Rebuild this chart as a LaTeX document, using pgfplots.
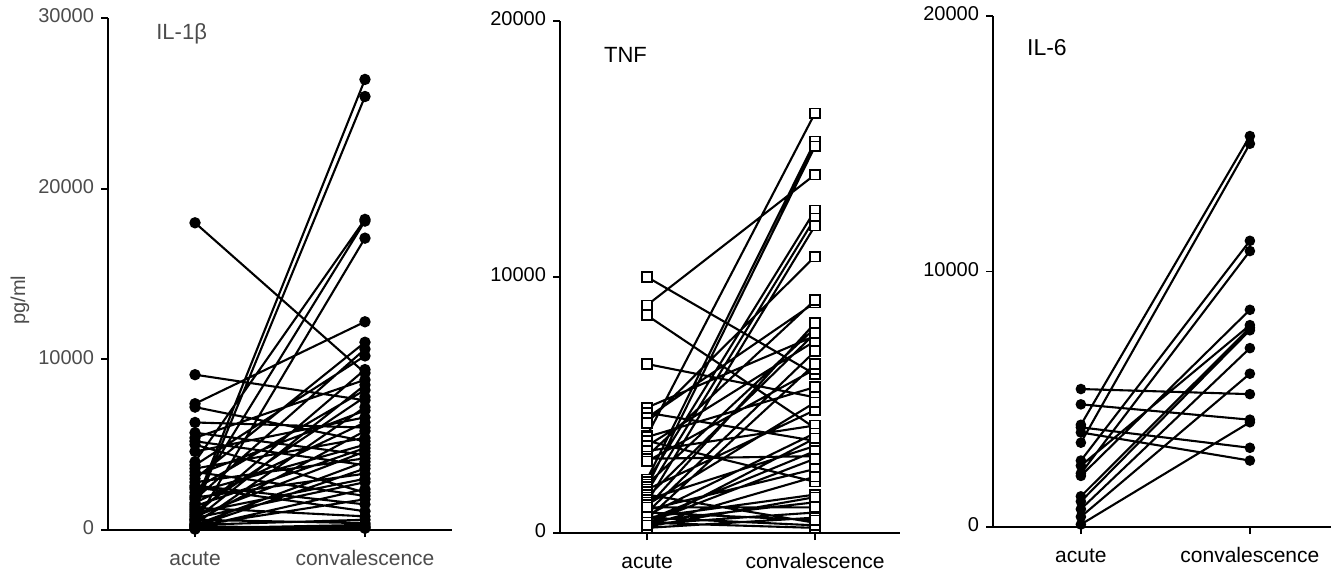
\documentclass[border=0pt]{standalone}
\usepackage{pgfplots}
\pgfplotsset{compat=1.18}
\usepackage{fontspec}
\setmainfont{Liberation Sans}
\begin{document}
\begin{tikzpicture}
\path[use as bounding box] (0,0) rectangle (665.5pt,286pt);
\pgfplotsset{
  panel/.style={
    scale only axis,
    axis x line=bottom, axis y line=left,
    axis line style={-, line width=0.9pt},
    tick style={line width=0.9pt, black},
    tick align=outside,
    major tick length=3.5pt,
    xtick={0,1}, xticklabels={acute,convalescence},
    typeset ticklabels with strut,
    scaled y ticks=false,
    /pgf/number format/assume math mode=true,
    /pgf/number format/set thousands separator={},
    ticklabel style={font=\fontsize{10}{12}\selectfont},
    xticklabel style={font=\fontsize{10.5}{12}\selectfont, yshift=-2.5pt},
    ymin=0,
    unbounded coords=jump,
    clip=false,
  },
  pair/.style={black, line width=1.05pt},
}
% ---------------- IL-1beta ----------------
\begin{axis}[panel, at={(54pt,21pt)}, anchor=south west,
  width=172pt, height=256pt, xmin=-0.512, xmax=1.512, ymax=30000,
  ytick={0,10000,20000,30000},
  ticklabel style={text=black!70}]
\addplot[pair, mark=*, mark size=2.3pt] coordinates {
(0,18000) (1,9200) (0,nan)
(0,9100) (1,7600) (0,nan)
(0,7400) (1,12200) (0,nan)
(0,7200) (1,5200) (0,nan)
(0,6300) (1,6000) (0,nan)
(0,5700) (1,4400) (0,nan)
(0,5400) (1,8800) (0,nan)
(0,5200) (1,3800) (0,nan)
(0,5000) (1,2200) (0,nan)
(0,4600) (1,6600) (0,nan)
(0,4000) (1,18200) (0,nan)
(0,3800) (1,10200) (0,nan)
(0,3600) (1,5400) (0,nan)
(0,3400) (1,2000) (0,nan)
(0,3200) (1,7000) (0,nan)
(0,3000) (1,11000) (0,nan)
(0,2800) (1,4200) (0,nan)
(0,2600) (1,1500) (0,nan)
(0,2400) (1,8200) (0,nan)
(0,2200) (1,5000) (0,nan)
(0,2000) (1,18100) (0,nan)
(0,1900) (1,3300) (0,nan)
(0,1800) (1,10600) (0,nan)
(0,1600) (1,6300) (0,nan)
(0,1500) (1,26400) (0,nan)
(0,1400) (1,4800) (0,nan)
(0,1200) (1,25400) (0,nan)
(0,1100) (1,7800) (0,nan)
(0,1000) (1,3000) (0,nan)
(0,900) (1,9400) (0,nan)
(0,800) (1,4600) (0,nan)
(0,700) (1,2800) (0,nan)
(0,600) (1,8500) (0,nan)
(0,500) (1,5800) (0,nan)
(0,400) (1,17100) (0,nan)
(0,350) (1,7200) (0,nan)
(0,300) (1,4000) (0,nan)
(0,250) (1,1800) (0,nan)
(0,200) (1,3600) (0,nan)
(0,150) (1,2400) (0,nan)
(0,100) (1,300) (0,nan)
(0,100) (1,200) (0,nan)
(0,50) (1,100) (0,nan)
(0,300) (1,600) (0,nan)
(0,600) (1,400) (0,nan)
(0,2500) (1,1100) (0,nan)
(0,1300) (1,800) (0,nan)
(0,200) (1,150)
};
\node[anchor=west, text=black!70, font=\fontsize{11}{13}\selectfont] at (rel axis cs:0.12,0.97) {IL-1β};
\node[rotate=90, text=black!70, font=\fontsize{10}{12}\selectfont] at (rel axis cs:-0.256,0.449) {pg/ml};
\end{axis}
% ---------------- TNF ----------------
\begin{axis}[panel, at={(280pt,19.5pt)}, anchor=south west,
  width=170pt, height=256pt, xmin=-0.518, xmax=1.506, ymax=20000,
  ytick={0,10000,20000}]
\addplot[pair, mark=square*, mark size=2.4pt, mark options={fill=white, line width=0.8pt}] coordinates {
(0,10000) (1,6200) (0,nan)
(0,8900) (1,14000) (0,nan)
(0,8500) (1,4100) (0,nan)
(0,6600) (1,5300) (0,nan)
(0,4900) (1,7700) (0,nan)
(0,4700) (1,3600) (0,nan)
(0,4500) (1,9000) (0,nan)
(0,4300) (1,10800) (0,nan)
(0,3800) (1,16400) (0,nan)
(0,3750) (1,5700) (0,nan)
(0,3600) (1,2000) (0,nan)
(0,3400) (1,7500) (0,nan)
(0,3200) (1,4200) (0,nan)
(0,3000) (1,9100) (0,nan)
(0,2900) (1,3000) (0,nan)
(0,2800) (1,6400) (0,nan)
(0,2100) (1,15300) (0,nan)
(0,2000) (1,12600) (0,nan)
(0,1900) (1,8000) (0,nan)
(0,1800) (1,15100) (0,nan)
(0,1700) (1,4800) (0,nan)
(0,1600) (1,12300) (0,nan)
(0,1500) (1,400) (0,nan)
(0,1400) (1,7800) (0,nan)
(0,1300) (1,3400) (0,nan)
(0,1200) (1,12000) (0,nan)
(0,1100) (1,5100) (0,nan)
(0,1000) (1,8200) (0,nan)
(0,900) (1,2500) (0,nan)
(0,800) (1,7100) (0,nan)
(0,700) (1,3900) (0,nan)
(0,600) (1,1500) (0,nan)
(0,550) (1,6600) (0,nan)
(0,500) (1,3200) (0,nan)
(0,450) (1,1200) (0,nan)
(0,400) (1,2900) (0,nan)
(0,350) (1,800) (0,nan)
(0,300) (1,3700) (0,nan)
(0,250) (1,1400) (0,nan)
(0,200) (1,600) (0,nan)
(0,400) (1,200) (0,nan)
(0,600) (1,300) (0,nan)
(0,800) (1,500) (0,nan)
(0,1000) (1,1000) (0,nan)
(0,300) (1,2200)
};
\node[anchor=west, font=\fontsize{11}{13}\selectfont] at (rel axis cs:0.109,0.934) {TNF};
\end{axis}
% ---------------- IL-6 ----------------
\begin{axis}[panel, at={(496.5pt,22.5pt)}, anchor=south west,
  width=169pt, height=255.5pt, xmin=-0.52, xmax=1.48, ymax=20000,
  ytick={0,10000,20000}]
\addplot[pair, mark=*, mark size=2.1pt] coordinates {
(0,5400) (1,5200) (0,nan)
(0,4800) (1,4200) (0,nan)
(0,4000) (1,15300) (0,nan)
(0,3900) (1,3100) (0,nan)
(0,3700) (1,2600) (0,nan)
(0,3300) (1,15000) (0,nan)
(0,2600) (1,11200) (0,nan)
(0,2100) (1,10800) (0,nan)
(0,2400) (1,7900) (0,nan)
(0,2000) (1,8500) (0,nan)
(0,1200) (1,7800) (0,nan)
(0,1000) (1,7700) (0,nan)
(0,700) (1,7000) (0,nan)
(0,400) (1,6000) (0,nan)
(0,100) (1,4100)
};
\node[anchor=west, font=\fontsize{11.5}{13}\selectfont] at (rel axis cs:0.08,0.939) {IL-6};
\end{axis}
\end{tikzpicture}
\end{document}
